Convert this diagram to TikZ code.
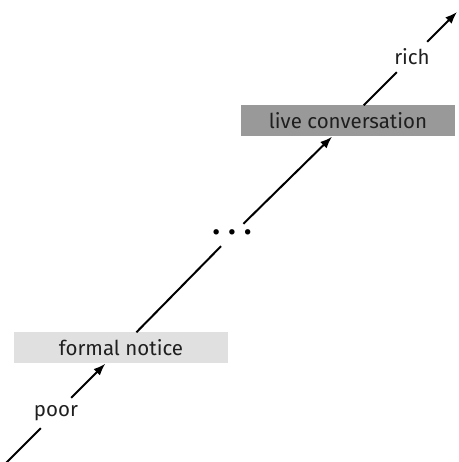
\documentclass[tikz,border=0pt]{standalone}
\usepackage{fontspec}
\setmainfont{Fira Sans}
\usetikzlibrary{arrows.meta}
\definecolor{lightbox}{gray}{0.88}
\definecolor{darkbox}{gray}{0.60}
\definecolor{txt}{gray}{0.12}
\begin{document}
\begin{tikzpicture}[x=1pt,y=1pt,
  conn/.style={line width=2pt, black},
  arr/.style={conn, -{Latex[length=12pt,width=9pt]}},
  levelbox/.style={minimum width=214pt, minimum height=31pt, inner sep=0pt,
    font=\fontsize{20.5}{24}\selectfont, text=txt},
  endlabel/.style={minimum height=30pt, inner sep=0pt,
    font=\fontsize{20.5}{24}\selectfont, text=txt},
  dotsnode/.style={minimum height=22pt, inner sep=0pt}
]
\useasboundingbox (0,0) rectangle (458,462);
\coordinate (start) at (6,-1);
\coordinate (end) at (457,450);
\node[endlabel] (poor) at (56,49) {poor};
\node[levelbox, fill=lightbox] (formal) at (121,114) {formal notice};
\node[dotsnode] (dots) at (232,227) {\fontsize{24}{28}\selectfont\textbullet\hspace{8pt}\textbullet\hspace{8pt}\textbullet};
\node[levelbox, fill=darkbox] (live) at (348,341) {live conversation};
\node[endlabel] (rich) at (412,405) {rich};
\draw[conn] (start) -- (poor);
\draw[arr] (poor) -- (formal);
\draw[conn] (formal) -- (dots);
\draw[arr] (dots) -- (live);
\draw[conn] (live) -- (rich);
\draw[arr] (rich) -- (end);
\end{tikzpicture}
\end{document}
